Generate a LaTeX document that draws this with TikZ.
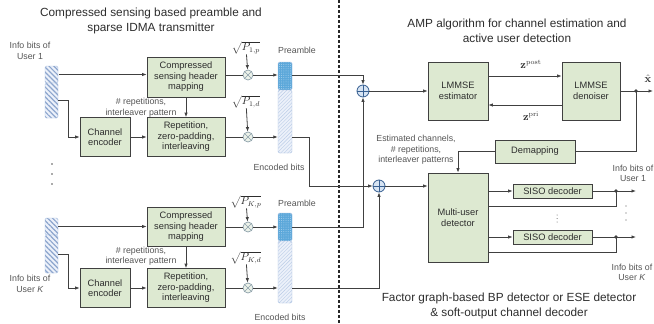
\documentclass[tikz,border=0pt]{standalone}
\usepackage[no-math]{fontspec}
\setmainfont{Liberation Sans}
\usetikzlibrary{arrows.meta,patterns.meta}

\definecolor{linecol}{RGB}{64,64,64}
\definecolor{blkfill}{RGB}{221,233,209}
\definecolor{txtcol}{RGB}{45,45,45}
\definecolor{lblcol}{RGB}{85,85,85}
\definecolor{barline}{RGB}{165,188,222}
\definecolor{barhatch}{RGB}{140,165,205}
\definecolor{barfill}{RGB}{236,241,250}
\definecolor{preblue}{RGB}{92,168,218}
\definecolor{predot}{RGB}{170,210,238}
\definecolor{prehatch}{RGB}{185,203,230}
\definecolor{multcol}{RGB}{140,160,170}
\definecolor{multfill}{RGB}{236,242,234}
\definecolor{addcol}{RGB}{55,95,145}
\definecolor{addfill}{RGB}{215,228,243}

\tikzset{
  blk/.style={draw=linecol, fill=blkfill, line width=0.8pt, align=center, inner sep=0pt,
    text=txtcol, font=\fontsize{9.3}{10.5}\selectfont},
  lbl/.style={align=center, inner sep=0pt, text=lblcol, font=\fontsize{8.8}{10.5}\selectfont},
  ttl/.style={align=center, inner sep=0pt, text=txtcol, font=\fontsize{11.8}{14.5}\selectfont},
  mth/.style={inner sep=0pt, text=txtcol, font=\fontsize{10.5}{12}\selectfont},
  infobar/.style={draw=barline, rounded corners=1.5pt, minimum width=13pt, inner sep=0pt,
    preaction={fill=barfill}, pattern={Lines[angle=-45,distance=3.5pt,line width=1.2pt]},
    pattern color=barhatch},
  pretop/.style={draw=barline, fill=preblue, rounded corners=1.5pt, minimum width=14pt,
    inner sep=0pt, postaction={pattern={Dots[distance=2.2pt,radius=0.5pt]}, pattern color=predot}},
  prebot/.style={draw=barline, rounded corners=1.5pt, minimum width=14pt, inner sep=0pt,
    preaction={fill=barfill}, pattern={Lines[angle=45,distance=2.5pt,line width=0.4pt]},
    pattern color=prehatch},
  mult/.style={circle, draw=multcol, fill=multfill, minimum size=10pt, inner sep=0pt,
    line width=0.7pt, path picture={\draw[multcol, line width=0.7pt]
      (path picture bounding box.north west) -- (path picture bounding box.south east)
      (path picture bounding box.north east) -- (path picture bounding box.south west);}},
  adder/.style={circle, draw=addcol, fill=addfill, minimum size=12pt, inner sep=0pt,
    line width=0.8pt, path picture={\draw[addcol, line width=0.8pt]
      (path picture bounding box.north) -- (path picture bounding box.south)
      (path picture bounding box.west) -- (path picture bounding box.east);}},
  conn/.style={draw=linecol, line width=0.8pt},
  arr/.style={conn, -{Latex[length=4.5pt,width=3.5pt]}}
}

\begin{document}
\begin{tikzpicture}[x=1pt,y=-1pt]
\useasboundingbox (0,0) rectangle (654,324);

% titles and divider
\node[ttl] (ttlL) at (151,21) {Compressed sensing based preamble and\\sparse IDMA transmitter};
\node[ttl] (ttlR) at (517,31) {AMP algorithm for channel estimation and\\active user detection};
\node[ttl] (ttlB) at (509,306) {Factor graph-based BP detector or ESE detector\\\& soft-output channel decoder};
\coordinate (divtop) at (339,0);
\coordinate (divbot) at (339,324);
\draw[line width=1.6pt, dash pattern=on 3pt off 2pt, black!85] (divtop) -- (divbot);

% user 1
\node[lbl] (in1lbl) at (30,51) {Info bits of\\User 1};
\node[infobar, minimum height=17pt] (info1a) at (51.5,74.5) {};
\node[infobar, minimum height=35pt] (info1b) at (51.5,100.5) {};
\node[blk, minimum width=78pt, minimum height=40pt] (cs1) at (186,77) {Compressed\\sensing header\\mapping};
\node[blk, minimum width=50pt, minimum height=39pt] (enc1) at (105,137) {Channel\\encoder};
\node[blk, minimum width=78pt, minimum height=39pt] (rep1) at (186,137) {Repetition,\\zero-padding,\\interleaving};
\node[lbl] (rp1) at (141,107.5) {\# repetitions,\\interleaver pattern};
\node[mult] (m1p) at (248,75) {};
\node[mult] (m1d) at (248,137) {};
\node[mth] (p1p) at (246,48) {$\sqrt{P_{1,p}}$};
\node[mth] (p1d) at (246,102) {$\sqrt{P_{1,d}}$};
\node[pretop, minimum height=28pt] (pre1a) at (285,76) {};
\node[prebot, minimum height=63pt] (pre1b) at (285,121.5) {};
\node[lbl] (pl1) at (297,50) {Preamble};
\node[lbl] (el1) at (279,167) {Encoded bits};

\draw[arr] (info1a.east) -- (cs1.west |- info1a.east);
\draw[arr] (info1b.east) -- ++(10,0) |- (enc1.west);
\draw[arr] (enc1) -- (rep1);
\draw[arr] (cs1) -- (rep1);
\draw[conn] (cs1.east |- m1p) -- (m1p);
\draw[arr] (m1p) -- (pre1a.west |- m1p);
\draw[arr] (p1p) -- (m1p);
\draw[conn] (rep1) -- (m1d);
\draw[arr] (m1d) -- (pre1b.west |- m1d);
\draw[arr] (p1d) -- (m1d);

% dots between users
\foreach \yy in {164,174,184}
  \fill[lblcol] (52,\yy) circle (0.8);

% user K
\node[lbl] (inKlbl) at (30,284) {Info bits of\\User \textit{K}};
\node[infobar, minimum height=17pt] (infoKa) at (51.5,226.5) {};
\node[infobar, minimum height=38pt] (infoKb) at (51.5,254) {};
\node[blk, minimum width=78pt, minimum height=39pt] (csK) at (186,227) {Compressed\\sensing header\\mapping};
\node[blk, minimum width=50pt, minimum height=39pt] (encK) at (105,288) {Channel\\encoder};
\node[blk, minimum width=78pt, minimum height=39pt] (repK) at (186,288) {Repetition,\\zero-padding,\\interleaving};
\node[lbl] (rpK) at (141,256) {\# repetitions,\\interleaver pattern};
\node[mult] (mKp) at (248,227) {};
\node[mult] (mKd) at (248,288) {};
\node[mth] (pKp) at (246,202) {$\sqrt{P_{K,p}}$};
\node[mth] (pKd) at (246,258) {$\sqrt{P_{K,d}}$};
\node[pretop, minimum height=28pt] (preKa) at (285,227) {};
\node[prebot, minimum height=62pt] (preKb) at (285,272) {};
\node[lbl] (plK) at (297,203) {Preamble};
\node[lbl] (elK) at (280,317) {Encoded bits};

\draw[arr] (infoKa.east) -- (csK.west |- infoKa.east);
\draw[arr] (infoKb.east) -- ++(10,0) |- (encK.west);
\draw[arr] (encK) -- (repK);
\draw[arr] (csK) -- (repK);
\draw[conn] (csK.east |- mKp) -- (mKp);
\draw[arr] (mKp) -- (preKa.west |- mKp);
\draw[arr] (pKp) -- (mKp);
\draw[conn] (repK) -- (mKd);
\draw[arr] (mKd) -- (preKb.west |- mKd);
\draw[arr] (pKd) -- (mKd);

% receiver: AMP part
\node[adder] (add1) at (363,91) {};
\node[adder] (add2) at (379,186) {};
\node[blk, minimum width=60pt, minimum height=58pt] (est) at (458,91) {LMMSE\\estimator};
\node[blk, minimum width=58pt, minimum height=58pt] (den) at (591,91) {LMMSE\\denoiser};
\node[mth] (zpost) at (531,64) {$\mathbf{z}^{\mathrm{post}}$};
\node[mth] (zpri) at (531,116) {$\mathbf{z}^{\mathrm{pri}}$};
\node[mth] (xhat) at (648,79) {$\hat{\mathbf{x}}$};
\node[blk, minimum width=80pt, minimum height=23pt] (dem) at (535,151.5) {Demapping};
\node[lbl] (estlbl) at (416,150) {Estimated channels,\\\# repetitions,\\interleaver patterns};

\draw[arr] (pre1a.east |- m1p) -| (add1);
\draw[arr] (preKa.east |- mKp) -| (add1);
\draw[arr] (pre1b.east |- m1d) -- ++(17,0) |- (add2);
\draw[arr] (preKb.east |- mKd) -| (add2);
\draw[arr] (add1) -- (est);
\draw[arr] ([yshift=15pt]est.east) -- ([yshift=15pt]den.west);
\draw[arr] ([yshift=-14pt]den.west) -- ([yshift=-14pt]est.east);

\coordinate (j0) at (636,91);
\coordinate (xout) at (653,91);
\draw[conn] (den) -- (j0);
\draw[arr] (j0) -- (xout);
\fill[linecol] (j0) circle (1.8);
\draw[conn] (j0) |- (dem);

% receiver: detector and decoders
\node[blk, minimum width=60pt, minimum height=89pt] (mud) at (458,217.5) {Multi-user\\detector};
\node[blk, minimum width=79pt, minimum height=14pt] (s1) at (552.5,191) {SISO decoder};
\node[blk, minimum width=79pt, minimum height=14pt] (sK) at (552.5,237) {SISO decoder};
\node[lbl] (out1lbl) at (633,173.5) {Info bits of\\User 1};
\node[lbl] (outKlbl) at (632,272.5) {Info bits of\\User \textit{K}};

\draw[arr] (dem) -| (mud);
\draw[arr] (add2) -- (mud.west |- add2);
\draw[arr] (mud.east |- s1) -- (s1);
\draw[arr] (mud.east |- sK) -- (sK);

\coordinate (j1) at (616,191);
\coordinate (o1) at (636,191);
\coordinate (jK) at (616,237);
\coordinate (oK) at (636,237);
\draw[conn] (s1) -- (j1);
\draw[arr] (j1) -- (o1);
\draw[conn] (j1) -- ++(0,15) coordinate (f1) -- (f1 -| mud.east);
\fill[linecol] (j1) circle (1.8);
\draw[conn] (sK) -- (jK);
\draw[arr] (jK) -- (oK);
\draw[conn] (jK) -- ++(0,15) coordinate (fK) -- (fK -| mud.east);
\fill[linecol] (jK) circle (1.8);

\foreach \yy in {215,218.5,222}
  \fill[lblcol] (557,\yy) circle (0.5);
\foreach \yy in {206,213,220}
  \fill[lblcol] (626,\yy) circle (0.6);
\end{tikzpicture}
\end{document}
